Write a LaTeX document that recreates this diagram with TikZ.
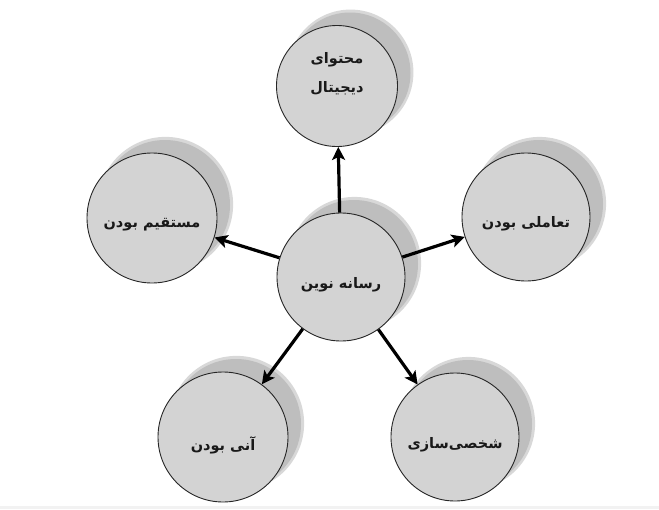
\documentclass[tikz,border=0pt]{standalone}
\usepackage{fontspec}
\newfontfamily\fa[Script=Arabic]{DejaVu Sans}
\TeXXeTstate=1
\usetikzlibrary{arrows.meta,shadows}
\definecolor{circfill}{RGB}{211,211,211}
\definecolor{shadowgray}{RGB}{190,190,190}
\definecolor{shadowsoft}{RGB}{216,216,216}
\begin{document}
\begin{tikzpicture}[x=1pt,y=-1pt,
  bubble/.style={circle, draw=black!85, line width=0.9pt, fill=circfill,
    inner sep=0pt, minimum size=#1,
    general shadow={fill=shadowsoft, shadow xshift=13pt, shadow yshift=13pt, shadow scale=1.04},
    general shadow={fill=shadowgray, shadow xshift=13pt, shadow yshift=13pt}},
  btext/.style={align=center, inner sep=0pt, text=black!90,
    font=\fa\bfseries\fontsize{14.5}{29}\selectfont},
  link/.style={line width=3.2pt, -{Stealth[length=13pt,width=13pt,inset=3pt]}}
]
\useasboundingbox (0,0) rectangle (659,509);
\fill[gray!10] (0,506) rectangle (659,509);

\node[bubble=121pt, label={[btext, yshift=12pt]center:\beginR محتوای\endR\\\beginR دیجیتال\endR}] (top) at (337,86) {};
\node[bubble=128pt, label={[btext, yshift=-8pt]center:\beginR رسانه نوین\endR}] (c) at (341,277) {};
\node[bubble=128pt, label={[btext, yshift=-7pt]center:\beginR تعاملی بودن\endR}] (r) at (526,217) {};
\node[bubble=130pt, label={[btext, yshift=-7pt]center:\beginR مستقیم بودن\endR}] (l) at (152,218) {};
\node[bubble=130pt, label={[btext, yshift=-8pt]center:\beginR آنی بودن\endR}] (bl) at (223,437) {};
\node[bubble=128pt, label={[btext, yshift=-8pt]center:\beginR شخصی‌سازی\endR}] (br) at (455,437) {};

\draw[link] (c) -- (top);
\draw[link] (c) -- (r);
\draw[link] (c) -- (l);
\draw[link] (c) -- (bl);
\draw[link] (c) -- (br);
\end{tikzpicture}
\end{document}
